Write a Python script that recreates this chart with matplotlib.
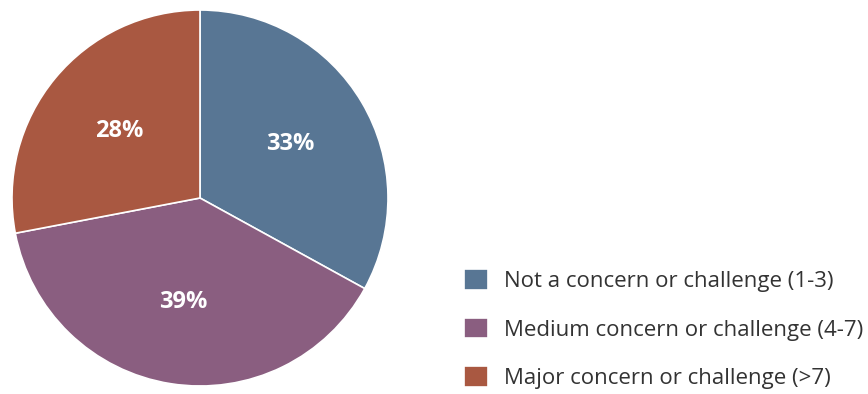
import matplotlib
matplotlib.use("Agg")
from matplotlib import pyplot as plt

labels = ["Not a concern or challenge (1-3)",
          "Medium concern or challenge (4-7)",
          "Major concern or challenge (>7)"]
shares = [33, 39, 28]
colors = ["#587694", "#8a5e80", "#a95841"]

plt.rcParams["font.family"] = ["Open Sans", "DejaVu Sans"]

fig = plt.figure(figsize=(8.68, 3.94), dpi=100)
ax = fig.add_axes([0.0138, 0.0203, 0.4332, 0.9543])

wedges, texts, autotexts = ax.pie(
    shares, colors=colors, startangle=90, counterclock=False,
    autopct="%d%%", pctdistance=0.56, radius=1.0,
    wedgeprops=dict(edgecolor="white", linewidth=1.2),
    textprops=dict(color="white", fontsize=17, fontweight="bold"))
ax.set_xlim(-1, 1)
ax.set_ylim(-1, 1)
ax.set_aspect("equal")

fig.legend(wedges, labels, loc="lower left", bbox_to_anchor=(0.512, -0.038),
           frameon=False, fontsize=16, handlelength=1.04, handleheight=1.04,
           handletextpad=0.72, labelspacing=1.15, labelcolor="#333333")

fig.savefig("out.png", dpi=100)
